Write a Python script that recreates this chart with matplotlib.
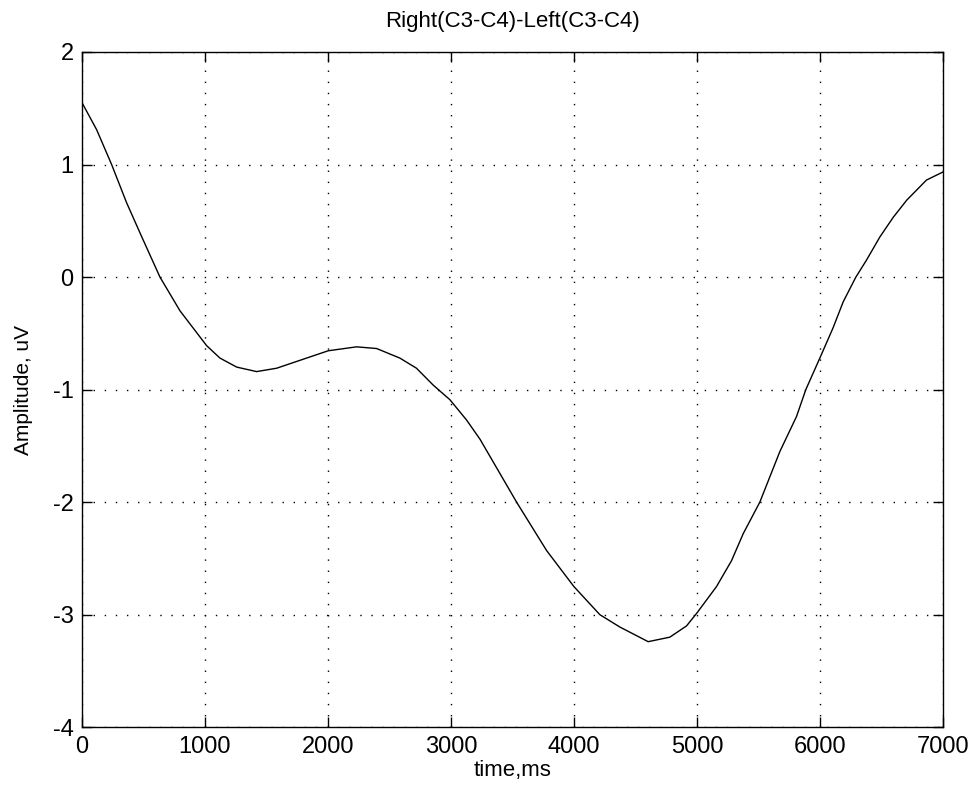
import matplotlib
matplotlib.use('Agg')
import matplotlib.pyplot as plt

# values
time_ms = [0, 119, 241, 363, 485, 634, 797, 1014, 1122, 1258, 1420, 1583,
           1799, 2002, 2233, 2396, 2585, 2720, 2856, 2992, 3127, 3236, 3534,
           3778, 4000, 4211, 4374, 4604, 4780, 4916, 4997, 5160, 5282, 5377,
           5512, 5675, 5810, 5886, 6000, 6108, 6190, 6293, 6379, 6488, 6596,
           6707, 6867, 7000]
amplitude = [1.55, 1.31, 1.0, 0.66, 0.36, 0.0, -0.30, -0.61, -0.72, -0.80,
             -0.84, -0.81, -0.73, -0.655, -0.62, -0.635, -0.72, -0.81, -0.96,
             -1.09, -1.27, -1.44, -2.0, -2.43, -2.75, -3.0, -3.11, -3.24,
             -3.2, -3.1, -2.99, -2.75, -2.52, -2.28, -2.0, -1.55, -1.24, -1.0,
             -0.72, -0.45, -0.22, 0.0, 0.15, 0.356, 0.53, 0.684, 0.862, 0.933]

x_ticks = [0, 1000, 2000, 3000, 4000, 5000, 6000, 7000]
y_ticks = [-4, -3, -2, -1, 0, 1, 2]

plt.rcParams['font.family'] = ['Liberation Sans', 'DejaVu Sans']
plt.rcParams['axes.unicode_minus'] = False

fig = plt.figure(figsize=(9.76, 8), dpi=100)
ax = fig.add_axes([0.084, 0.091, 0.882, 0.844])

ax.plot(time_ms, amplitude, color='black', linewidth=1.0)

ax.set_xlim(0, 7000)
ax.set_ylim(-4, 2)
ax.set_xticks(x_ticks)
ax.set_yticks(y_ticks)
# matlab style dotted grid, one dot every ~10 px
ax.grid(True, color='black', linestyle=(0, (1, 7)), linewidth=1.0)
ax.tick_params(direction='in', top=True, right=True, length=7, width=1,
               labelsize=17, pad=6)
for s in ax.spines.values():
    s.set_linewidth(1.0)

ax.set_title('Right(C3-C4)-Left(C3-C4)', fontsize=16, pad=18)
ax.set_xlabel('time,ms', fontsize=16, labelpad=2)
ax.set_ylabel('Amplitude, uV', fontsize=15, labelpad=14)

fig.savefig('out.png', dpi=100, facecolor='white')
